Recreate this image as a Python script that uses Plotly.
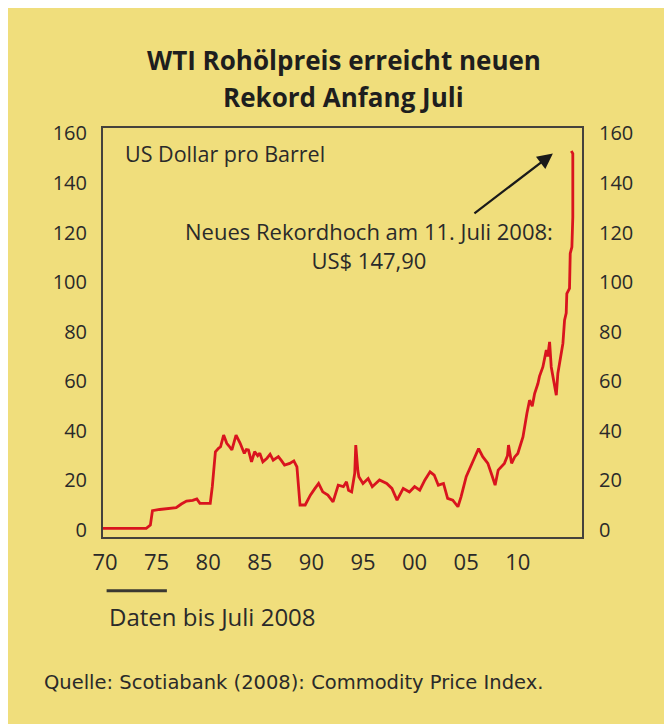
import plotly.graph_objects as go

# Data (x positions follow the chart's own year scale)
years = [1969.81, 1974.0, 1974.4, 1974.6, 1975.3, 1976.0, 1976.9, 1977.4, 1977.9, 1978.5,
         1978.9, 1979.2, 1980.2, 1980.4, 1980.6, 1980.7, 1981.0, 1981.2, 1981.5, 1981.8,
         1982.0, 1982.3, 1982.7, 1983.1, 1983.5, 1983.7, 1983.9, 1984.2, 1984.5, 1984.8,
         1985.0, 1985.3, 1985.7, 1986.0, 1986.3, 1986.8, 1987.1, 1987.4, 1987.9, 1988.3,
         1988.6, 1988.9, 1989.4, 1989.9, 1990.3, 1990.7, 1991.1, 1991.6, 1992.1, 1992.6,
         1993.1, 1993.4, 1993.6, 1993.9, 1994.2, 1994.3, 1994.5, 1994.6, 1995.0, 1995.5,
         1995.9, 1996.3, 1996.6, 1997.3, 1997.8, 1998.3, 1998.9, 1999.5, 2000.0, 2000.5,
         2001.0, 2001.5, 2001.9, 2002.3, 2002.8, 2003.2, 2003.7, 2004.2, 2004.5, 2005.0,
         2005.7, 2006.2, 2006.6, 2007.1, 2007.5, 2007.8, 2008.1, 2008.7, 2009.0, 2009.1,
         2009.4, 2009.7, 2010.0, 2010.5, 2010.88, 2011.14, 2011.4, 2011.63, 2011.95, 2012.1,
         2012.43, 2012.76, 2012.9, 2013.08, 2013.24, 2013.4, 2013.56, 2013.73, 2013.88, 2014.21,
         2014.37, 2014.53, 2014.69, 2014.75, 2015.01, 2015.08, 2015.24, 2015.33, 2015.33, 2015.18]
prices = [0.7, 0.7, 2.0, 7.8, 8.3, 8.6, 9.0, 10.5, 11.7, 12.0,
          12.6, 10.8, 10.8, 17.5, 28.0, 31.6, 33.0, 33.6, 38.3, 35.0,
          34.0, 32.3, 38.3, 35.0, 30.9, 32.5, 32.3, 27.5, 31.6, 30.0,
          31.0, 27.5, 29.0, 30.6, 28.2, 29.6, 28.0, 26.2, 26.9, 27.9,
          25.5, 10.1, 10.1, 14.1, 16.5, 18.8, 15.4, 14.1, 11.4, 18.1,
          17.5, 19.5, 16.0, 15.4, 22.9, 34.3, 24.0, 21.5, 18.8, 20.8,
          17.5, 19.0, 20.2, 18.8, 16.8, 12.1, 16.8, 15.4, 17.5, 16.1,
          20.2, 23.5, 22.2, 18.1, 18.8, 12.8, 12.1, 9.4, 13.4, 21.5,
          28.2, 32.9, 29.6, 26.9, 22.0, 18.1, 24.2, 26.9, 30.0, 34.3,
          26.9, 29.5, 30.9, 37.6, 47.0, 52.4, 50.0, 55.1, 59.1, 62.0,
          65.8, 72.6, 70.0, 75.9, 65.8, 61.8, 59.1, 54.4, 63.2, 71.4,
          75.3, 84.7, 87.5, 95.4, 97.5, 111.6, 114.2, 126.3, 151.9, 152.9]

x_tickvals = [1970, 1975, 1980, 1985, 1990, 1995, 2000, 2005, 2010]
x_ticktext = ["70", "75", "80", "85", "90", "95", "00", "05", "10"]
y_tickvals = [0, 20, 40, 60, 80, 100, 120, 140, 160]

YELLOW = "#F0DE7C"
TEXT = "#2a2a2a"
RED = "#D9141E"
FONT = "Open Sans"

fig = go.Figure()
fig.add_trace(go.Scatter(x=years, y=prices, mode="lines",
                         line=dict(color=RED, width=2.8), hoverinfo="skip",
                         showlegend=False))
# invisible copy on the right-hand axis so it is drawn
fig.add_trace(go.Scatter(x=years, y=prices, mode="lines", yaxis="y2",
                         line=dict(color="rgba(0,0,0,0)", width=0), hoverinfo="skip",
                         showlegend=False))

fig.update_layout(
    width=664, height=716,
    margin=dict(l=95, r=89.5, t=119.7, b=187),
    paper_bgcolor=YELLOW,
    plot_bgcolor=YELLOW,
    font=dict(family=FONT, color=TEXT),
    xaxis=dict(range=[1969.81, 2016.22], tickvals=x_tickvals, ticktext=x_ticktext,
               ticks="outside", ticklen=5, tickcolor="rgba(0,0,0,0)",
               showgrid=False, zeroline=False, showline=True, mirror=True,
               linecolor="#45423c", linewidth=2,
               tickfont=dict(family=FONT, size=22, color=TEXT)),
    yaxis=dict(range=[-2.8, 162.2], tickvals=y_tickvals,
               ticks="outside", ticklen=10, tickcolor="rgba(0,0,0,0)",
               showgrid=False, zeroline=False, showline=True, mirror=True,
               linecolor="#45423c", linewidth=2,
               tickfont=dict(family=FONT, size=20, color=TEXT)),
    yaxis2=dict(range=[-2.8, 162.2], tickvals=y_tickvals, overlaying="y", side="right",
                ticks="outside", ticklen=12, tickcolor="rgba(0,0,0,0)",
                showgrid=False, zeroline=False, showline=False,
                tickfont=dict(family=FONT, size=20, color=TEXT)),
    shapes=[
        dict(type="line", xref="x", yref="paper", x0=1970.16, x1=1976.0,
             y0=-0.1312, y1=-0.1312, line=dict(color="#3a3832", width=3)),
    ],
    annotations=[
        dict(text="<b>WTI Rohölpreis erreicht neuen</b>", xref="paper", yref="paper",
             x=0.5026, y=1.1654, xanchor="center", yanchor="middle", showarrow=False,
             font=dict(family=FONT, size=26, color="#1e1e1e")),
        dict(text="<b>Rekord Anfang Juli</b>", xref="paper", yref="paper",
             x=0.5026, y=1.0758, xanchor="center", yanchor="middle", showarrow=False,
             font=dict(family=FONT, size=26, color="#1e1e1e")),
        dict(text="US Dollar pro Barrel", xref="paper", yref="y",
             x=0.0425, y=152, xanchor="left", yanchor="middle", showarrow=False,
             font=dict(family=FONT, size=21.5, color=TEXT)),
        dict(text="Neues Rekordhoch am 11. Juli 2008:<br>US$ 147,90", xref="x", yref="y",
             x=1995.56, y=114.6, xanchor="center", yanchor="middle", align="center",
             showarrow=False, font=dict(family=FONT, size=22, color=TEXT)),
        dict(text="", x=2013.40, y=151.9, xref="x", yref="y",
             ax=2005.65, ay=127.3, axref="x", ayref="y", showarrow=True,
             arrowhead=2, arrowsize=1.4, arrowwidth=2.2, arrowcolor="#1a1a1a"),
        dict(text="Daten bis Juli 2008", xref="paper", yref="paper",
             x=0.0083, y=-0.1955, xanchor="left", yanchor="middle", showarrow=False,
             font=dict(family=FONT, size=24, color=TEXT)),
        dict(text="Quelle: Scotiabank (2008): Commodity Price Index.", xref="paper",
             yref="paper", x=-0.1278, y=-0.3567, xanchor="left", yanchor="middle",
             showarrow=False, font=dict(family="DejaVu Sans", size=19.5, color=TEXT)),
    ],
)

fig.write_html("out.html")
